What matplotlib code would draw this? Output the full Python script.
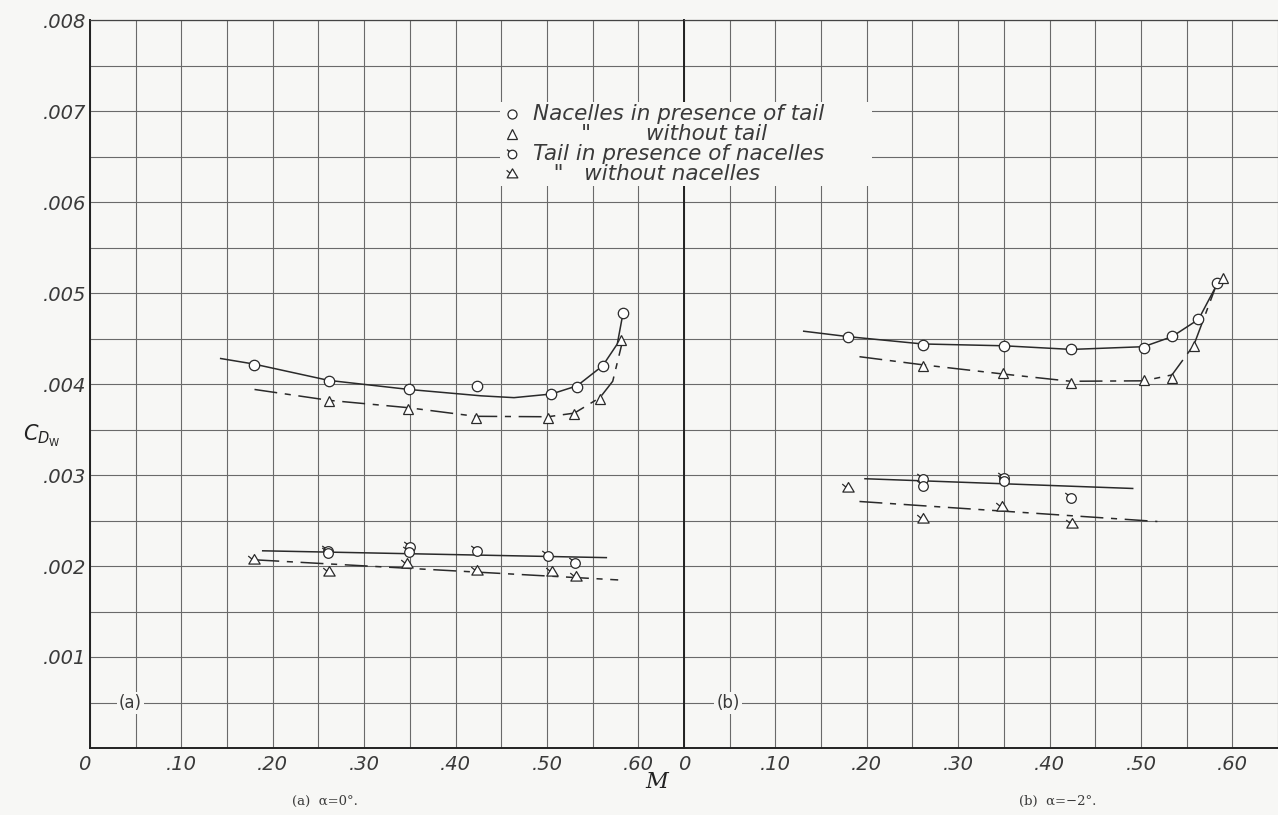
import matplotlib
matplotlib.use("Agg")
import matplotlib.pyplot as plt
from matplotlib.path import Path
from matplotlib.lines import Line2D
from matplotlib.patches import Rectangle

# Wave-drag coefficient C_Dw against Mach number M.
# Panel (a): alpha = 0 deg

a_nt_M = [0.179, 0.261, 0.349, 0.424, 0.505, 0.533, 0.561, 0.583]
a_nt_C = [0.00421, 0.00403, 0.00394, 0.00398, 0.00389, 0.00397, 0.00420, 0.00478]
a_n_M = [0.262, 0.348, 0.422, 0.501, 0.530, 0.558, 0.581]
a_n_C = [0.00381, 0.00373, 0.00363, 0.00363, 0.00367, 0.00384, 0.00448]
a_tn_M = [0.260, 0.260, 0.350, 0.349, 0.423, 0.501, 0.531]
a_tn_C = [0.00217, 0.00214, 0.00221, 0.00215, 0.00217, 0.00211, 0.00203]
a_t_M = [0.180, 0.261, 0.347, 0.423, 0.506, 0.532]
a_t_C = [0.00207, 0.00193, 0.00202, 0.00194, 0.00193, 0.00188]

# faired curves (a)
a_nt_fair_M = [0.143, 0.179, 0.261, 0.349, 0.428, 0.464, 0.505, 0.533, 0.561, 0.577, 0.582]
a_nt_fair_C = [0.00428, 0.00422, 0.00404, 0.00394, 0.00387, 0.00385, 0.00389, 0.00398,
               0.00420, 0.00444, 0.00471]
a_n_fair_M = [0.180, 0.262, 0.348, 0.422, 0.501, 0.530, 0.558, 0.572, 0.582]
a_n_fair_C = [0.00394, 0.00382, 0.00374, 0.003645, 0.00364, 0.00368, 0.00385, 0.00403, 0.00444]
a_tn_fair_M = [0.189, 0.565]
a_tn_fair_C = [0.002167, 0.002092]
a_t_fair_M = [0.182, 0.578]
a_t_fair_C = [0.002067, 0.001847]

# Panel (b): alpha = -2 deg
b_nt_M = [0.180, 0.261, 0.350, 0.424, 0.503, 0.534, 0.563, 0.583]
b_nt_C = [0.00452, 0.00443, 0.00442, 0.00438, 0.00440, 0.00453, 0.00471, 0.00511]
b_n_M = [0.262, 0.349, 0.423, 0.503, 0.534, 0.558, 0.590]
b_n_C = [0.00420, 0.00412, 0.00401, 0.00404, 0.00407, 0.00442, 0.00517]
b_tn_M = [0.261, 0.261, 0.350, 0.350, 0.423]
b_tn_C = [0.002955, 0.002874, 0.002964, 0.002934, 0.002745]
b_t_M = [0.180, 0.262, 0.348, 0.425]
b_t_C = [0.00286, 0.00252, 0.002645, 0.002467]

# faired curves (b)
b_nt_fair_M = [0.131, 0.180, 0.261, 0.350, 0.424, 0.503, 0.534, 0.563, 0.583]
b_nt_fair_C = [0.00458, 0.00452, 0.00444, 0.00442, 0.00438, 0.00441, 0.00452, 0.00471, 0.00509]
b_n_fair_M = [0.192, 0.262, 0.349, 0.423, 0.503, 0.534, 0.558, 0.583]
b_n_fair_C = [0.00430, 0.00421, 0.00411, 0.00403, 0.004035, 0.00410, 0.00443, 0.00510]
b_tn_fair_M = [0.198, 0.491]
b_tn_fair_C = [0.002959, 0.002852]
b_t_fair_M = [0.192, 0.518]
b_t_fair_C = [0.002709, 0.002489]

x_ticks = [0, 0.10, 0.20, 0.30, 0.40, 0.50, 0.60]
x_labels = ["0", ".10", ".20", ".30", ".40", ".50", ".60"]
y_ticks = [0, 0.001, 0.002, 0.003, 0.004, 0.005, 0.006, 0.007, 0.008]
y_labels = ["", ".001", ".002", ".003", ".004", ".005", ".006", ".007", ".008"]

legend_labels = ["Nacelles in presence of tail",
                 '       "        without tail',
                 "Tail in presence of nacelles",
                 '   "   without nacelles']

# Drawing

INK = "#2a2a2a"
GRID = "#6a6a6a"
TXT = "#3a3a3a"
PAPER = "#f7f7f5"
DASH = (0, (15, 5, 4, 5))

# flagged symbols (tail data)
circ = Path.unit_circle()
flag_c = Path([(-0.7, 0.7), (-1.3, 1.15)], [Path.MOVETO, Path.LINETO])
flag_circle = Path.make_compound_path(circ, flag_c)
tri = Path([(0, 1.0), (-0.95, -0.6), (0.95, -0.6), (0, 1.0)],
           [Path.MOVETO, Path.LINETO, Path.LINETO, Path.CLOSEPOLY])
flag_t = Path([(-0.45, 0.25), (-1.05, 0.75)], [Path.MOVETO, Path.LINETO])
flag_tri = Path.make_compound_path(tri, flag_t)

mk = dict(color=INK, mfc="white", mew=0.9, ls="none", zorder=4)

fig = plt.figure(figsize=(12.78, 8.15), dpi=100, facecolor=PAPER)
W, H = 1278, 815
left, mid, right, top, bottom = 90, 684, 1278, 20, 748
ax_a = fig.add_axes([left / W, 1 - bottom / H, (mid - left) / W, (bottom - top) / H])
ax_b = fig.add_axes([mid / W, 1 - bottom / H, (right - mid) / W, (bottom - top) / H])

for ax in (ax_a, ax_b):
  ax.set_facecolor(PAPER)
  ax.set_xlim(0, 0.65)
  ax.set_ylim(0, 0.008)
  ax.set_xticks(x_ticks)
  ax.set_xticks([0.05, 0.15, 0.25, 0.35, 0.45, 0.55, 0.65], minor=True)
  ax.set_yticks(y_ticks)
  ax.set_yticks([0.0005 + 0.001 * i for i in range(8)], minor=True)
  ax.grid(True, which="both", color=GRID, lw=0.8)
  ax.set_axisbelow(True)
  ax.tick_params(which="both", length=0)
  ax.set_xticklabels(x_labels, fontsize=14, style="italic", color=TXT)
  ax.tick_params(axis="x", pad=5)
  ax.spines["right"].set_visible(False)
  for s in ("left", "bottom"):
    ax.spines[s].set_color("#222222")
    ax.spines[s].set_linewidth(1.4)
  ax.spines["top"].set_color("#444444")
  ax.spines["top"].set_linewidth(0.9)

ax_a.set_yticklabels(y_labels, fontsize=14, style="italic", color=TXT)
ax_a.tick_params(axis="y", pad=3)
ax_a.get_xticklabels()[0].set_horizontalalignment("right")
ax_b.set_yticklabels([])

# panel (a)
ax_a.plot(a_nt_fair_M, a_nt_fair_C, color=INK, lw=1.1, zorder=3)
ax_a.plot(a_n_fair_M, a_n_fair_C, color=INK, lw=1.1, ls=DASH, zorder=3)
ax_a.plot(a_tn_fair_M, a_tn_fair_C, color=INK, lw=1.1, zorder=3)
ax_a.plot(a_t_fair_M, a_t_fair_C, color=INK, lw=1.1, ls=DASH, zorder=3)
ax_a.plot(a_nt_M, a_nt_C, marker="o", ms=7.5, **mk)
ax_a.plot(a_n_M, a_n_C, marker="^", ms=7, **mk)
ax_a.plot(a_tn_M, a_tn_C, marker=flag_circle, ms=9, **mk)
ax_a.plot(a_t_M, a_t_C, marker=flag_tri, ms=9, **mk)

# panel (b)
ax_b.plot(b_nt_fair_M, b_nt_fair_C, color=INK, lw=1.1, zorder=3)
ax_b.plot(b_n_fair_M, b_n_fair_C, color=INK, lw=1.1, ls=DASH, zorder=3)
ax_b.plot(b_tn_fair_M, b_tn_fair_C, color=INK, lw=1.1, zorder=3)
ax_b.plot(b_t_fair_M, b_t_fair_C, color=INK, lw=1.1, ls=DASH, zorder=3)
ax_b.plot(b_nt_M, b_nt_C, marker="o", ms=7.5, **mk)
ax_b.plot(b_n_M, b_n_C, marker="^", ms=7, **mk)
ax_b.plot(b_tn_M, b_tn_C, marker=flag_circle, ms=9, **mk)
ax_b.plot(b_t_M, b_t_C, marker=flag_tri, ms=9, **mk)

# panel tags on the .0005 line
box = dict(facecolor=PAPER, edgecolor="none", pad=1.5)
ax_a.text(0.044, 0.0005, "(a)", fontsize=12, color=TXT, ha="center", va="center", bbox=box)
ax_b.text(0.048, 0.0005, "(b)", fontsize=12, color=TXT, ha="center", va="center", bbox=box)

# key, lettered straight onto the grid
fig.add_artist(Rectangle((500 / W, 1 - 186 / H), 372 / W, 84 / H, transform=fig.transFigure,
                         facecolor=PAPER, edgecolor="none", zorder=8))
key_markers = [dict(marker="o", ms=6.5), dict(marker="^", ms=6.5),
               dict(marker=flag_circle, ms=8), dict(marker=flag_tri, ms=8.5)]
key_rows = [114, 134, 154, 174]
for row, label, m in zip(key_rows, legend_labels, key_markers):
  fig.add_artist(Line2D([512 / W], [1 - row / H], transform=fig.transFigure,
                        color=INK, mfc="white", mew=0.9, ls="none", zorder=9, **m))
  fig.text(533 / W, 1 - row / H, label, fontsize=15.5, style="italic", color=TXT,
           ha="left", va="center", zorder=9)

# axis titles and captions
fig.text(42 / W, 1 - 436 / H, r"$C_{D_{\rm W}}$", fontsize=15, ha="center", va="center",
         color="#222222", family="DejaVu Serif")
fig.text(657 / W, 1 - 782 / H, "M", fontsize=16, style="italic", family="DejaVu Serif",
         ha="center", va="center", color="#222222")
fig.text(325 / W, 1 - 801 / H, "(a)  α=0°.", fontsize=9.5, family="DejaVu Serif",
         ha="center", va="center", color=TXT)
fig.text(1058 / W, 1 - 801 / H, "(b)  α=−2°.", fontsize=9.5, family="DejaVu Serif",
         ha="center", va="center", color=TXT)

fig.savefig("out.png", dpi=100, facecolor=PAPER)
